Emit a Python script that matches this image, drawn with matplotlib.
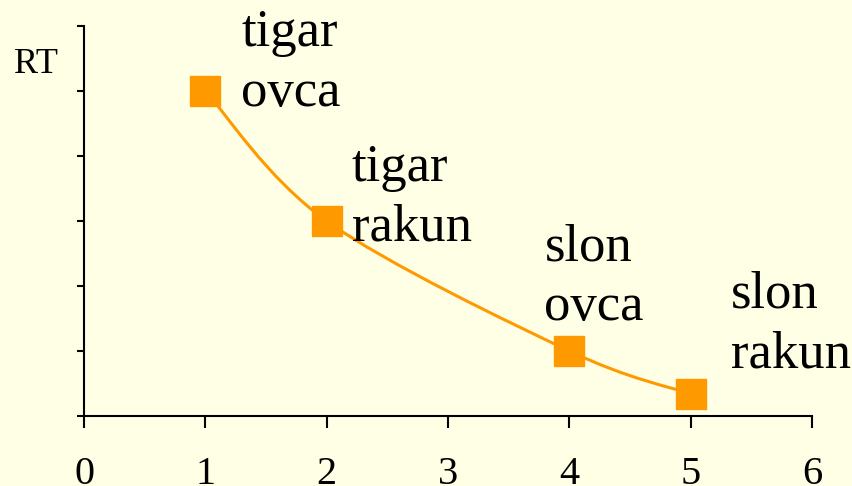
import numpy as np
import matplotlib
matplotlib.use('Agg')
import matplotlib.pyplot as plt
from matplotlib.path import Path
from matplotlib.patches import PathPatch

# data
x_vals = [1, 2, 4, 5]
rt_vals = [5.0, 3.0, 1.0, 0.34]
labels = ['tigar\novca', 'tigar\nrakun', 'slon\novca', 'slon\nrakun']
x_ticks = [0, 1, 2, 3, 4, 5, 6]
y_ticks = [0, 1, 2, 3, 4, 5, 6]

# label offsets from each point (points), baseline of the last line
label_offsets = [(26, -11), (18, -14), (-18, 22), (29, 19)]

ORANGE = '#FF9900'
BG = '#FFFFE6'

plt.rcParams['font.family'] = ['Liberation Serif', 'DejaVu Serif']


def smooth_path(xs, ys):
    # Catmull-Rom style bezier through the points, like a smoothed line
    pts = np.column_stack([xs, ys]).astype(float)
    ext = np.vstack([pts[0], pts, pts[-1]])
    verts = [pts[0]]
    codes = [Path.MOVETO]
    for i in range(1, len(ext) - 2):
        p0, p1, p2, p3 = ext[i - 1], ext[i], ext[i + 1], ext[i + 2]
        verts += [p1 + (p2 - p0) / 6, p2 - (p3 - p1) / 6, p2]
        codes += [Path.CURVE4] * 3
    return Path(verts, codes)


fig = plt.figure(figsize=(8.53, 4.86), dpi=100, facecolor=BG)
ax = fig.add_axes([0.0985, 0.144, 0.8535, 0.8025], facecolor=BG)

ax.add_patch(PathPatch(smooth_path(x_vals, rt_vals), facecolor='none',
                       edgecolor=ORANGE, linewidth=2.2, zorder=2))
ax.plot(x_vals, rt_vals, linestyle='none', marker='s', markersize=21.5,
        color=ORANGE, zorder=3)

for xv, yv, lab, off in zip(x_vals, rt_vals, labels, label_offsets):
    ax.annotate(lab, (xv, yv), xytext=off, textcoords='offset points',
                fontsize=38, va='baseline', ha='left', linespacing=1.32,
                annotation_clip=False)

ax.set_xlim(0, 6)
ax.set_ylim(0, 6)
ax.set_xticks(x_ticks)
ax.set_yticks(y_ticks)
ax.set_yticklabels([])
ax.tick_params(axis='x', direction='out', length=8.5, width=1.5,
               labelsize=29, pad=20)
ax.tick_params(axis='y', direction='out', length=5, width=1.5)

for side in ['top', 'right']:
    ax.spines[side].set_visible(False)
for side in ['left', 'bottom']:
    ax.spines[side].set_linewidth(1.5)

fig.text(14 / 853, 1 - 73 / 486, 'RT', fontsize=26, va='baseline', ha='left')

fig.savefig('out.png', dpi=100, facecolor=BG)
